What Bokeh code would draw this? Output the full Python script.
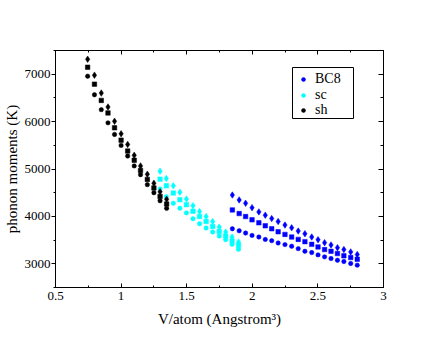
from bokeh.plotting import figure
from bokeh.models import (LinearAxis, SingleIntervalTicker, Legend, LegendItem,
                          Range1d, CustomJSTickFormatter, BoxAnnotation)
from bokeh.embed import file_html
from bokeh.resources import INLINE

# ---- data ----
sh_x = [0.745, 0.797, 0.849, 0.900, 0.950, 1.000, 1.050, 1.100, 1.148, 1.200, 1.250, 1.297, 1.347]
sh_top = [7316, 6979, 6602, 6309, 6007, 5743, 5519, 5289, 5065, 4890, 4700, 4520, 4360]
sh_mid = [7147, 6790, 6447, 6183, 5869, 5609, 5379, 5184, 4970, 4780, 4600, 4420, 4260]
sh_low = [6958, 6566, 6252, 5974, 5729, 5498, 5274, 5065, 4880, 4670, 4500, 4330, 4170]

sc_x = [1.297, 1.345, 1.398, 1.448, 1.498, 1.548, 1.598, 1.648, 1.698, 1.748, 1.797, 1.846, 1.895]
sc_top = [4954, 4801, 4646, 4508, 4367, 4227, 4102, 3997, 3892, 3775, 3670, 3565, 3461]
sc_mid = [4786, 4646, 4493, 4353, 4248, 4110, 3997, 3892, 3787, 3683, 3586, 3482, 3390]
sc_low = [4580, 4416, 4277, 4173, 4074, 3949, 3844, 3754, 3670, 3586, 3509, 3410, 3306]

bc8_x = [1.848, 1.900, 1.949, 1.998, 2.050, 2.099, 2.148, 2.197, 2.249, 2.300,
         2.350, 2.401, 2.453, 2.501, 2.551, 2.600, 2.649, 2.698, 2.750, 2.800]
bc8_top = [4451, 4347, 4277, 4185, 4095, 4026, 3955, 3892, 3817, 3760,
           3691, 3635, 3565, 3509, 3446, 3398, 3341, 3300, 3251, 3195]
bc8_mid = [4137, 4060, 3997, 3928, 3865, 3802, 3739, 3676, 3620, 3565,
           3515, 3467, 3410, 3356, 3300, 3264, 3216, 3168, 3132, 3096]
bc8_low = [3739, 3697, 3649, 3599, 3565, 3515, 3488, 3440, 3405, 3370,
           3320, 3264, 3237, 3188, 3147, 3111, 3075, 3048, 3006, 2971]

series_names = ["BC8", "sc", "sh"]
series_colors = ["#0000ff", "#00ffff", "#000000"]

FONT = "Liberation Serif"

p = figure(width=424, height=335, output_backend="svg", toolbar_location=None,
           x_range=Range1d(0.5, 3.0), y_range=Range1d(2500, 7500),
           x_axis_label="V/atom (Angstrom³)", y_axis_label="phonon moments (K)",
           min_border_left=43, min_border_right=41, min_border_top=50, min_border_bottom=48)
p.xgrid.visible = False
p.ygrid.visible = False
p.outline_line_color = "black"
p.outline_line_width = 1
p.outline_line_alpha = 1.0
p.background_fill_color = "white"
p.border_fill_color = "white"

xt = SingleIntervalTicker(interval=0.5, num_minor_ticks=2)
yt = SingleIntervalTicker(interval=1000, num_minor_ticks=2)

xa = p.xaxis[0]
xa.ticker = xt
xa.formatter = CustomJSTickFormatter(code="return tick.toString();")
ya = p.yaxis[0]
ya.ticker = yt

for ax in (xa, ya):
    ax.axis_line_color = "black"
    ax.major_tick_line_color = "black"
    ax.minor_tick_line_color = "black"
    ax.major_label_text_font = FONT
    ax.major_label_text_font_size = "13px"
    ax.major_label_text_color = "black"
    ax.axis_label_text_font = FONT
    ax.axis_label_text_font_size = "15px"
    ax.axis_label_text_font_style = "normal"
    ax.axis_label_text_color = "black"

xa.major_tick_in = 4
xa.major_tick_out = 0
xa.minor_tick_in = 2
xa.minor_tick_out = 0
xa.major_label_standoff = 4
xa.axis_label_standoff = 8

ya.major_tick_in = 0
ya.major_tick_out = 4
ya.minor_tick_in = 0
ya.minor_tick_out = 2
ya.major_label_standoff = 1
ya.axis_label_standoff = 2

blank = CustomJSTickFormatter(code="return '';")
top = LinearAxis(ticker=SingleIntervalTicker(interval=0.5, num_minor_ticks=2),
                 formatter=blank, major_label_standoff=0,
                 major_tick_in=4, major_tick_out=0, minor_tick_in=2, minor_tick_out=0,
                 axis_line_color="black")
right = LinearAxis(ticker=SingleIntervalTicker(interval=1000, num_minor_ticks=2),
                   formatter=blank, major_label_standoff=0,
                   major_tick_in=5, major_tick_out=0, minor_tick_in=3, minor_tick_out=0,
                   axis_line_color="black")
p.add_layout(top, "above")
p.add_layout(right, "right")

all_data = [
    (bc8_x, bc8_top, bc8_mid, bc8_low),
    (sc_x, sc_top, sc_mid, sc_low),
    (sh_x, sh_top, sh_mid, sh_low),
]

legend_renderers = []
for name, color, (xs, yt_, ym_, yl_) in zip(series_names, series_colors, all_data):
    p.scatter(xs, yt_, marker="diamond", size=6.5, fill_color=color, line_color=color, line_width=0.5)
    p.scatter(xs, ym_, marker="square", size=4.5, fill_color=color, line_color=color, line_width=0.5)
    rc = p.scatter(xs, yl_, marker="circle", size=4.4, fill_color=color, line_color=color, line_width=0.5)
    legend_renderers.append(rc)

# legend frame
box = BoxAnnotation(left=237, right=298, bottom=169, top=220,
                    left_units="screen", right_units="screen",
                    bottom_units="screen", top_units="screen",
                    fill_color="white", fill_alpha=1.0,
                    line_color="black", line_width=1, line_alpha=1.0)
p.add_layout(box)

# one compact legend per entry, stacked at the reference's line spacing
for i, (name, rc) in enumerate(zip(series_names, legend_renderers)):
    lg = Legend(items=[LegendItem(label=name, renderers=[rc])],
                location=(243, 200 - 15.5 * i),
                label_text_font=FONT, label_text_font_size="14px", label_text_color="black",
                border_line_color=None, background_fill_alpha=0.0,
                padding=0, spacing=0, margin=0,
                label_height=10, glyph_height=10, glyph_width=10, label_standoff=7)
    p.add_layout(lg)

open("out.html", "w").write(file_html(p, INLINE))
